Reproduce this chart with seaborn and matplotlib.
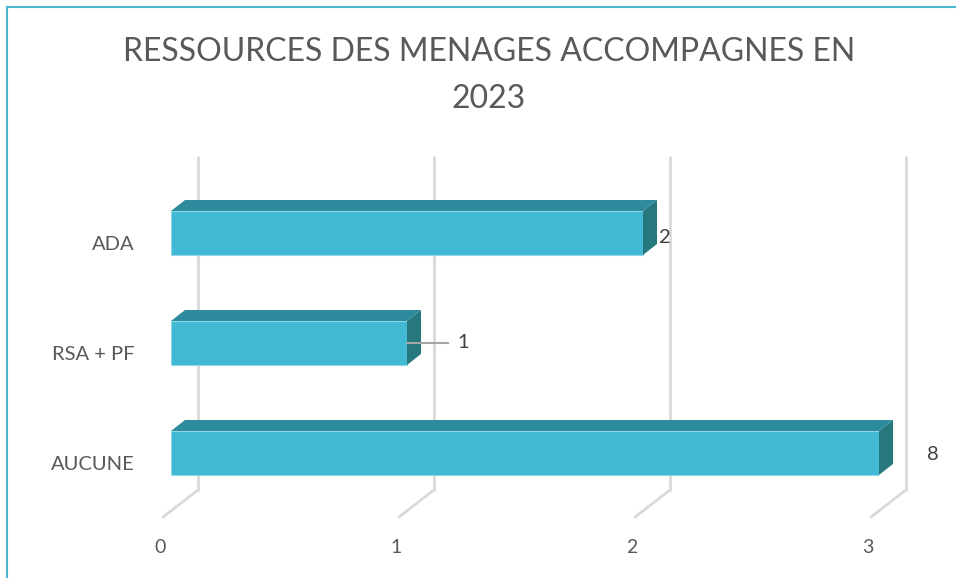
import matplotlib.pyplot as plt
import matplotlib.patches as mpatches
from matplotlib.lines import Line2D
from matplotlib.transforms import Affine2D, IdentityTransform
import pandas as pd
import seaborn as sns

# donnees
categories = ["ADA", "RSA + PF", "AUCUNE"]
values = [2, 1, 8]
xticks = [0, 1, 2, 3]
title = "RESSOURCES DES MENAGES ACCOMPAGNES EN\n2023"

W, H = 956, 578
FRONT = "#41B9D4"
TOP = "#2E8B9D"
SIDE = "#27777F"
GRID = "#D9D9D9"
TEXT = "#595959"

sns.set_theme(style="white")
plt.rcParams["font.family"] = ["Lato", "DejaVu Sans"]

fig = plt.figure(figsize=(W / 100, H / 100), dpi=100)
# plan avant de la zone de trace (pixels depuis le coin haut gauche)
left, right, top, bottom = 171, 879, 157, 517
ax = fig.add_axes([left / W, 1 - bottom / H, (right - left) / W, (bottom - top) / H])

df = pd.DataFrame({"cat": categories, "val": values})
sns.barplot(data=df, x="val", y="cat", color=FRONT, width=0.4, saturation=1,
            ax=ax, zorder=3, edgecolor="#8FD6E6", linewidth=0.8)
ax.set_xlim(0, 3)
ax.set_ylim(2.582, -0.691)
ax.set_xlabel("")
ax.set_ylabel("")
for s in ax.spines.values():
    s.set_visible(False)

# faces 3D des barres
dx, dy = 14, 11
xmax = ax.get_xlim()[1]
for p in list(ax.patches):
    x0, y0 = p.get_x(), p.get_y()
    x1 = min(x0 + p.get_width(), xmax)
    pts = ax.transData.transform([(x0, y0), (x1, y0 + p.get_height())])
    xl, xr = pts[:, 0].min(), pts[:, 0].max()
    yb, yt = pts[:, 1].min(), pts[:, 1].max()
    topface = [(xl, yt), (xr, yt), (xr + dx, yt + dy), (xl + dx, yt + dy)]
    side = [(xr, yb), (xr + dx, yb + dy), (xr + dx, yt + dy), (xr, yt)]
    for poly, c in ((topface, TOP), (side, SIDE)):
        ax.add_patch(mpatches.Polygon(poly, closed=True, fc=c, ec="none",
                                      transform=IdentityTransform(), clip_on=False, zorder=3))

# quadrillage (plan arriere + sol)
xt = ax.get_xaxis_transform()
for v in xticks:
    (xa, ya_top), (_, ya_back), (_, ya_front) = xt.transform([(v, 1.0), (v, 27 / 360), (v, 0.0)])
    ax.add_line(Line2D([xa + 27, xa + 27], [ya_top, ya_back], color=GRID, lw=2,
                       transform=IdentityTransform(), clip_on=False, zorder=1))
    ax.add_line(Line2D([xa + 27, xa - 8], [ya_back, ya_front], color=GRID, lw=2,
                       transform=IdentityTransform(), clip_on=False, zorder=1))

# axes
ax.set_xticks(xticks)
ax.tick_params(axis="x", length=0, pad=16, labelsize=14, labelcolor=TEXT)
ax.tick_params(axis="y", length=0, pad=26, labelsize=14.5, labelcolor=TEXT)
for lbl in ax.get_xticklabels():
    lbl.set_transform(lbl.get_transform() + Affine2D().translate(-11, 0))
for lbl in ax.get_yticklabels():
    lbl.set_transform(lbl.get_transform() + Affine2D().translate(0, -10))

# etiquettes de donnees
label_offsets = [(22, -4), (56, 0), (54, -2)]
for i, (v, off) in enumerate(zip(values, label_offsets)):
    arrow = dict(arrowstyle="-", color="#A6A6A6", lw=1.5, shrinkA=4, shrinkB=0) if i == 1 else None
    ax.annotate(str(v), xy=(min(v, xmax), i), xytext=off, textcoords="offset pixels",
                ha="center", va="center", fontsize=14.5, color="#404040",
                arrowprops=arrow, annotation_clip=False, zorder=6)

fig.suptitle(title, x=489 / W, y=1 - 37 / H, va="top", fontsize=23, color=TEXT,
             linespacing=1.7)

# cadre
fig.add_artist(mpatches.Rectangle((7 / W, -0.1), 2, 1 - 7 / H + 0.1, transform=fig.transFigure,
                                  fill=False, ec="#4DB6CF", lw=1.5))

fig.savefig("out.png", dpi=100)
